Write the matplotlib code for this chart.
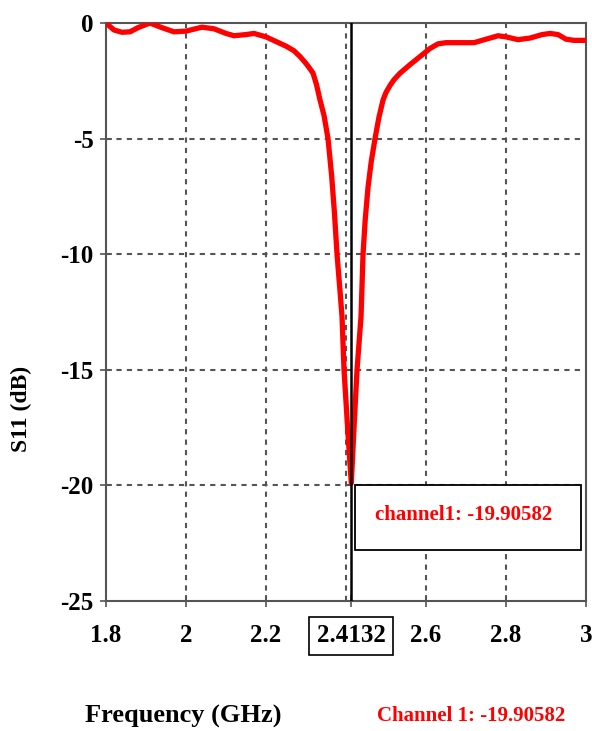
import numpy as np
import matplotlib.pyplot as plt
from matplotlib.patches import Rectangle

plt.rcParams['font.family'] = ['Liberation Serif', 'DejaVu Serif']

# S11 curve
freq = [1.80, 1.82, 1.84, 1.86, 1.88, 1.91, 1.94, 1.97, 2.00, 2.04, 2.07, 2.10,
        2.12, 2.15, 2.17, 2.20, 2.225, 2.25, 2.27, 2.285, 2.30, 2.31, 2.3175,
        2.326, 2.335, 2.345, 2.355, 2.364, 2.371, 2.3775, 2.385, 2.39, 2.395,
        2.405, 2.4132, 2.42, 2.4275, 2.4375, 2.4425, 2.448, 2.455, 2.463, 2.4725,
        2.482, 2.4925, 2.50, 2.51, 2.52, 2.535, 2.56, 2.585, 2.61, 2.63, 2.65,
        2.67, 2.72, 2.75, 2.78, 2.80, 2.83, 2.86, 2.89, 2.91, 2.93, 2.95, 2.97, 3.00]
s11 = [0.0, -0.3, -0.4, -0.38, -0.2, 0.0, -0.2, -0.38, -0.35, -0.18, -0.25, -0.45,
       -0.55, -0.5, -0.45, -0.6, -0.8, -1.0, -1.2, -1.45, -1.75, -1.98, -2.17,
       -2.65, -3.33, -4.0, -5.0, -6.6, -8.2, -10.0, -11.6, -12.7, -15.0,
       -17.8, -19.9, -17.5, -15.0, -12.7, -10.0, -8.5, -7.1, -6.0, -5.0,
       -4.1, -3.33, -3.0, -2.7, -2.45, -2.17, -1.8, -1.45, -1.1, -0.9, -0.85,
       -0.85, -0.85, -0.7, -0.55, -0.6, -0.72, -0.65, -0.5, -0.45, -0.5, -0.7,
       -0.75, -0.75]

marker_f = 2.4132
marker_val = -19.90582
xticks = [1.8, 2.0, 2.2, 2.4132, 2.6, 2.8, 3.0]
xtick_labels = ['1.8', '2', '2.2', '2.4132', '2.6', '2.8', '3']
yticks = [0, -5, -10, -15, -20, -25]

fig = plt.figure(figsize=(5.92, 7.31), dpi=100)
ax = fig.add_axes([0.179, 0.178, 0.811, 0.7905])

# grid at the regular steps
for gx in [2.0, 2.2, 2.4, 2.6, 2.8]:
    ax.axvline(gx, color='#555555', lw=1.5, ls=(0, (2.5, 2.5)), zorder=1)
for gy in [-5, -10, -15, -20]:
    ax.axhline(gy, color='#555555', lw=1.5, ls=(0, (2.5, 2.5)), zorder=1)

ax.plot(freq, s11, color='#ff0000', lw=3.8, solid_capstyle='round',
        solid_joinstyle='round', zorder=3)
ax.axvline(marker_f, color='black', lw=1.8, zorder=4)

ax.set_xlim(1.8, 3.0)
ax.set_ylim(-25, 0)
ax.set_xticks(xticks)
ax.set_xticklabels(xtick_labels)
ax.set_yticks(yticks)
ax.set_yticklabels([str(v) for v in yticks])
ax.tick_params(direction='inout', length=8, width=1.2, color='#555555',
               labelsize=18, pad=5)
ax.tick_params(axis='x', pad=13)
for lab in ax.get_xticklabels() + ax.get_yticklabels():
    lab.set_fontweight('bold')
ax.get_xticklabels()[3].set_bbox(dict(boxstyle='square,pad=0.3', fc='white',
                                      ec='black', lw=1.2))
for sp in ax.spines.values():
    sp.set_color('#555555')
    sp.set_linewidth(1.5)

# marker readout box
box = Rectangle((marker_f + 0.01, marker_val - 0.1), 0.565, -2.8,
                fc='white', ec='black', lw=1.3, zorder=5)
ax.add_patch(box)
ax.text(marker_f + 0.06, marker_val - 1.4, 'channel1: -19.90582', color='#ff0000',
        fontsize=15, fontweight='bold', va='center', ha='left', zorder=6)

fig.text(0.037, 0.44, 'S11 (dB)', rotation=90, fontsize=17, fontweight='bold',
         ha='center', va='center')
fig.text(0.31, 0.02, 'Frequency (GHz)', fontsize=19, fontweight='bold',
         ha='center', va='center')
fig.text(0.795, 0.02, 'Channel 1: -19.90582', fontsize=15, fontweight='bold',
         color='#ff0000', ha='center', va='center')

plt.savefig('out.png', dpi=100)
